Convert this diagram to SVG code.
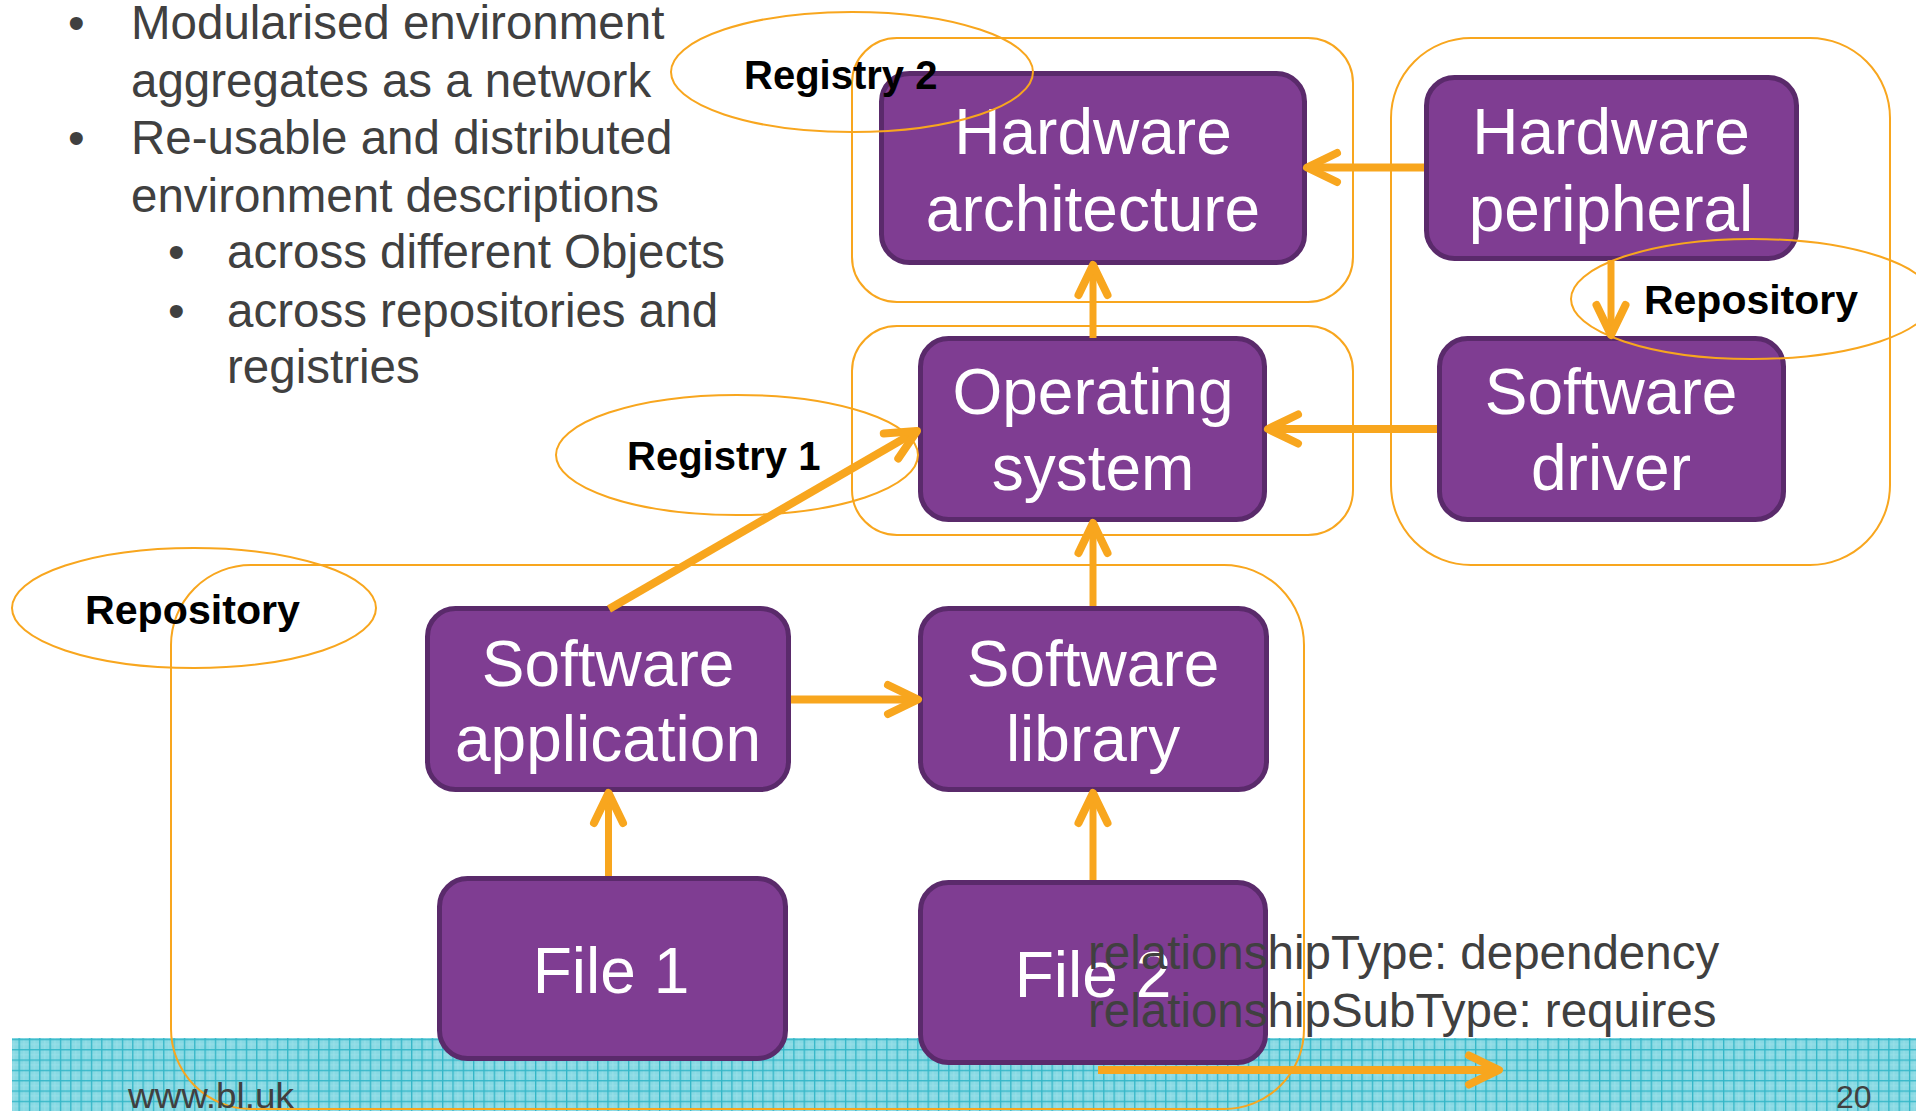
<svg xmlns="http://www.w3.org/2000/svg" width="1916" height="1111" viewBox="0 0 1916 1111">
<style>
.bul{font-family:"Liberation Sans",Arial,sans-serif;font-size:47.5px;fill:#404040}
.box{fill:#7F3D92;stroke:#5A2A6B;stroke-width:5}
.bt{font-family:"Liberation Sans",Arial,sans-serif;font-size:64px;fill:#FFFFFF;text-anchor:middle}
.grp{fill:none;stroke:#F8A61E;stroke-width:2}
.lbl{font-family:"Liberation Sans",Arial,sans-serif;font-size:40px;font-weight:bold;fill:#000000}
.con{fill:none;stroke:#F8A61E;stroke-linecap:butt}
.h{stroke-width:8}
.v{stroke-width:7}
.foot{font-family:"Liberation Sans",Arial,sans-serif;fill:#404040}
</style>
<defs>
<marker id="ah" markerUnits="userSpaceOnUse" orient="auto" overflow="visible" markerWidth="1" markerHeight="1" refX="0" refY="0">
<path d="M-30,-14.5 L0,0 L-30,14.5" fill="none" stroke="#F8A61E" stroke-width="8" stroke-linecap="round" stroke-linejoin="round"/>
</marker>
<pattern id="grid" patternUnits="userSpaceOnUse" x="8.2" y="1038.8" width="10.33" height="10.33">
<rect x="0" y="0" width="10.33" height="10.33" fill="#88D9E3"/>
<rect x="5.16" y="0" width="0.8" height="10.33" fill="#9CE1E9"/>
<rect x="0" y="5.16" width="10.33" height="0.8" fill="#9CE1E9"/>
<rect x="0" y="0" width="1.3" height="10.33" fill="#33B6C7"/>
<rect x="0" y="0" width="10.33" height="1.3" fill="#33B6C7"/>
</pattern>
</defs>
<rect width="1916" height="1111" fill="#FFFFFF"/>
<rect x="12" y="1038" width="1904" height="73" fill="url(#grid)"/>

<g id="bullets">
<text class="bul" x="68" y="39">•</text>
<text class="bul" x="131" y="39">Modularised environment</text>
<text class="bul" x="131" y="97">aggregates as a network</text>
<text class="bul" x="68" y="154">•</text>
<text class="bul" x="131" y="154">Re-usable and distributed</text>
<text class="bul" x="131" y="212">environment descriptions</text>
<text class="bul" x="168" y="268">•</text>
<text class="bul" x="227" y="268">across different Objects</text>
<text class="bul" x="168" y="327">•</text>
<text class="bul" x="227" y="327">across repositories and</text>
<text class="bul" x="227" y="383">registries</text>
</g>

<g id="groups">
<rect class="grp" x="852" y="38" width="501" height="264" rx="45"/>
<rect class="grp" x="852" y="326" width="501" height="209" rx="45"/>
<rect class="grp" x="1391" y="38" width="499" height="527" rx="80"/>
<rect class="grp" x="171" y="565" width="1133" height="544" rx="80"/>
</g>

<g id="hw-architecture">
<rect class="box" x="881.5" y="73.5" width="423" height="189" rx="28"/>
<text class="bt" x="1093" y="154">Hardware</text>
<text class="bt" x="1093" y="231">architecture</text>
</g>
<g id="hw-peripheral">
<rect class="box" x="1426.5" y="77.5" width="370" height="181" rx="28"/>
<text class="bt" x="1611" y="154">Hardware</text>
<text class="bt" x="1611" y="231">peripheral</text>
</g>
<g id="operating-system">
<rect class="box" x="920.5" y="338.5" width="344" height="181" rx="28"/>
<text class="bt" x="1093" y="414">Operating</text>
<text class="bt" x="1093" y="490">system</text>
</g>
<g id="software-driver">
<rect class="box" x="1439.5" y="338.5" width="344" height="181" rx="28"/>
<text class="bt" x="1611" y="414">Software</text>
<text class="bt" x="1611" y="490">driver</text>
</g>
<g id="software-application">
<rect class="box" x="427.5" y="608.5" width="361" height="181" rx="28"/>
<text class="bt" x="608" y="686">Software</text>
<text class="bt" x="608" y="761">application</text>
</g>
<g id="software-library">
<rect class="box" x="920.5" y="608.5" width="346" height="181" rx="28"/>
<text class="bt" x="1093" y="686">Software</text>
<text class="bt" x="1093" y="761">library</text>
</g>
<g id="file-1">
<rect class="box" x="439.5" y="878.5" width="346" height="180" rx="28"/>
<text class="bt" x="611" y="993">File 1</text>
</g>
<g id="file-2">
<rect class="box" x="920.5" y="882.5" width="345" height="180" rx="28"/>
<text class="bt" x="1093" y="997">File 2</text>
</g>

<g id="registry-2">
<ellipse class="grp" cx="852" cy="72" rx="181" ry="60"/>
<text class="lbl" x="744" y="89">Registry 2</text>
</g>
<g id="registry-1">
<ellipse class="grp" cx="737" cy="455" rx="181" ry="60"/>
<text class="lbl" x="627" y="470">Registry 1</text>
</g>
<g id="repository-right">
<ellipse class="grp" cx="1752" cy="299" rx="181" ry="60"/>
<text class="lbl" x="1644" y="314" textLength="214" lengthAdjust="spacingAndGlyphs">Repository</text>
</g>
<g id="repository-left">
<ellipse class="grp" cx="194" cy="608" rx="182" ry="60"/>
<text class="lbl" x="85" y="624" textLength="215" lengthAdjust="spacingAndGlyphs">Repository</text>
</g>

<g id="connectors">
<line class="con h" x1="1424" y1="167.5" x2="1307" y2="167.5" marker-end="url(#ah)"/>
<line class="con h" x1="1437" y1="429" x2="1268" y2="429" marker-end="url(#ah)"/>
<line class="con h" x1="791" y1="699.5" x2="918" y2="699.5" marker-end="url(#ah)"/>
<line class="con v" x1="1093" y1="338" x2="1093" y2="265" marker-end="url(#ah)"/>
<line class="con v" x1="1611" y1="260" x2="1611" y2="335" marker-end="url(#ah)"/>
<line class="con v" x1="1093" y1="606" x2="1093" y2="523" marker-end="url(#ah)"/>
<line class="con v" x1="608.5" y1="876" x2="608.5" y2="793" marker-end="url(#ah)"/>
<line class="con v" x1="1093" y1="880" x2="1093" y2="793" marker-end="url(#ah)"/>
<line class="con h" x1="609" y1="609" x2="917" y2="431" marker-end="url(#ah)"/>
<line class="con h" x1="1098" y1="1070" x2="1499" y2="1070" marker-end="url(#ah)"/>
</g>

<g id="legend">
<text class="bul" x="1088" y="969">relationshipType: dependency</text>
<text class="bul" x="1088" y="1027">relationshipSubType: requires</text>
</g>

<g id="footer">
<text class="foot" x="128" y="1108" font-size="35" textLength="166" lengthAdjust="spacingAndGlyphs">www.bl.uk</text>
<text class="foot" x="1836" y="1108" font-size="32">20</text>
</g>
</svg>
